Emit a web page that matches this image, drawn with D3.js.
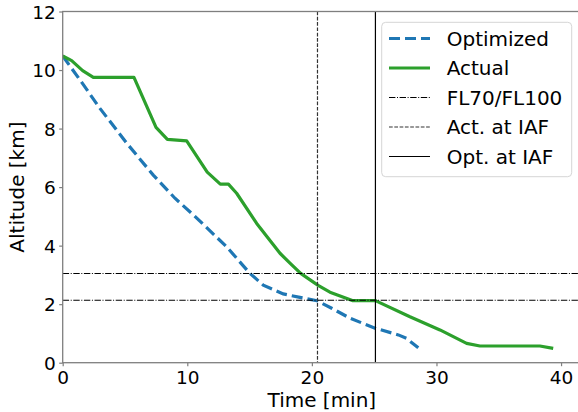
<!DOCTYPE html>
<html>
<head>
<meta charset="utf-8">
<script src="https://d3js.org/d3.v7.min.js"></script>
<style>
    body { margin: 0; background: #fff; }
    text { font-family: "DejaVu Sans", sans-serif; fill: #000; }
</style>
</head>
<body>
<svg id="drawing_region"></svg>
<script>
// descent profiles (time in min, altitude in km)
const opt_time = [0, 1.39, 2.99, 5.14, 7.27, 9.01, 10.49, 13.16, 15.03, 16.1, 17.7, 19.04, 20.4, 21.59, 23.06, 25.07, 26.94, 27.6, 28.54];
const opt_alt  = [10.48, 9.66, 8.69, 7.5, 6.41, 5.62, 5.05, 3.96, 3.05, 2.65, 2.35, 2.23, 2.12, 1.86, 1.52, 1.18, 0.95, 0.83, 0.51];

const act_time = [0, 0.72, 1.6, 2.46, 5.72, 7.49, 8.4, 9.95, 11.6, 12.65, 13.3, 13.96, 15.57, 17.44, 18.24, 19.1, 20.5, 21.45, 23.3, 25.1, 27.87, 30.28, 32.42, 33.49, 38.3, 39.37];
const act_alt  = [10.48, 10.32, 9.98, 9.75, 9.75, 8.04, 7.63, 7.58, 6.51, 6.1, 6.1, 5.79, 4.76, 3.74, 3.4, 3.05, 2.64, 2.41, 2.12, 2.12, 1.57, 1.12, 0.66, 0.57, 0.57, 0.49];

const fl_levels = [2.134, 3.048];   // FL70, FL100
const act_iaf = 20.45;
const opt_iaf = 25.1;

const x_ticks = [0, 10, 20, 30, 40];
const y_ticks = [0, 2, 4, 6, 8, 10, 12];
const x_domain = [0, 41.44];
const y_domain = [0, 12];

const legend_labels = ["Optimized", "Actual", "FL70/FL100", "Act. at IAF", "Opt. at IAF"];

class DescentPlot {

    constructor( config ) {
        this.config = config;
        this.init();
    }

    init() {
        let self = this;
        const c = self.config;

        self.svg = d3.select( c.parent )
            .attr('width', c.width)
            .attr('height', c.height);

        self.xscale = d3.scaleLinear()
            .domain( x_domain )
            .range( [c.left, c.right] );

        self.yscale = d3.scaleLinear()
            .domain( y_domain )
            .range( [c.bottom, c.top] );

        self.svg.append('clipPath')
            .attr('id', 'plot_clip')
            .append('rect')
            .attr('x', c.left)
            .attr('y', c.top)
            .attr('width', c.right - c.left)
            .attr('height', c.bottom - c.top);

        self.chart = self.svg.append('g')
            .attr('clip-path', 'url(#plot_clip)');
    }

    render() {
        let self = this;
        const c = self.config;
        const xs = self.xscale, ys = self.yscale;

        const line = d3.line()
            .x( d => xs(d[0]) )
            .y( d => ys(d[1]) );

        // optimized
        self.chart.append('path')
            .datum( d3.zip(opt_time, opt_alt) )
            .attr('d', line)
            .attr('fill', 'none')
            .attr('stroke', '#1f77b4')
            .attr('stroke-width', 3.2)
            .attr('stroke-dasharray', '11,5');

        // actual
        self.chart.append('path')
            .datum( d3.zip(act_time, act_alt) )
            .attr('d', line)
            .attr('fill', 'none')
            .attr('stroke', '#2ca02c')
            .attr('stroke-width', 3.2)
            .attr('stroke-linejoin', 'round');

        // FL70 / FL100
        self.chart.selectAll('.fl')
            .data( fl_levels )
            .enter()
            .append('line')
            .attr('x1', c.left)
            .attr('x2', c.right)
            .attr('y1', d => ys(d))
            .attr('y2', d => ys(d))
            .attr('stroke', '#000')
            .attr('stroke-width', 1.1)
            .attr('stroke-dasharray', '6.4,1.6,1,1.6');

        self.chart.append('line')
            .attr('x1', xs(act_iaf)).attr('x2', xs(act_iaf))
            .attr('y1', c.top).attr('y2', c.bottom)
            .attr('stroke', '#333')
            .attr('stroke-width', 1.2)
            .attr('stroke-dasharray', '3.7,1.6');

        self.chart.append('line')
            .attr('x1', xs(opt_iaf)).attr('x2', xs(opt_iaf))
            .attr('y1', c.top).attr('y2', c.bottom)
            .attr('stroke', '#000')
            .attr('stroke-width', 1.2);

        // spines
        const spine = '#7f7f7f';
        self.svg.append('rect')
            .attr('x', c.left).attr('y', c.top)
            .attr('width', c.right - c.left).attr('height', c.bottom - c.top)
            .attr('fill', 'none')
            .attr('stroke', spine)
            .attr('stroke-width', 1.3);

        // axes
        const xaxis = d3.axisBottom( xs )
            .tickValues( x_ticks )
            .tickSize(3.5)
            .tickPadding(4);
        const yaxis = d3.axisLeft( ys )
            .tickValues( y_ticks )
            .tickSize(3.5)
            .tickPadding(4);

        const xg = self.svg.append('g')
            .attr('transform', `translate(0, ${c.bottom})`)
            .call( xaxis );
        const yg = self.svg.append('g')
            .attr('transform', `translate(${c.left}, 0)`)
            .call( yaxis );

        [xg, yg].forEach( g => {
            g.select('.domain').remove();
            g.selectAll('line').attr('stroke', spine).attr('stroke-width', 1.2);
            g.selectAll('text')
                .attr('font-size', '18.5px')
                .attr('font-family', '"DejaVu Sans", sans-serif')
                .attr('fill', '#000');
        });
        xg.selectAll('text').attr('dy', null).attr('y', 21.5);
        yg.selectAll('text').attr('dy', '0.36em').attr('x', -7);

        // axis labels
        self.svg.append('text')
            .attr('x', (c.left + 583) / 2 - 1)
            .attr('y', 406.5)
            .attr('text-anchor', 'middle')
            .attr('font-size', '20px')
            .text('Time [min]');

        self.svg.append('text')
            .attr('transform', `translate(24, ${(c.top + c.bottom) / 2}) rotate(-90)`)
            .attr('text-anchor', 'middle')
            .attr('font-size', '20px')
            .text('Altitude [km]');

        self.legend();
    }

    legend() {
        let self = this;
        const lg = self.svg.append('g');

        lg.append('rect')
            .attr('x', 381.7).attr('y', 22.3)
            .attr('width', 190).attr('height', 154.4)
            .attr('rx', 4)
            .attr('fill', '#fff').attr('fill-opacity', 0.8)
            .attr('stroke', '#d5d5d5')
            .attr('stroke-width', 1);

        const styles = [
            { stroke: '#1f77b4', width: 3.2, dash: '11,5' },
            { stroke: '#2ca02c', width: 3.2, dash: null },
            { stroke: '#000', width: 1.1, dash: '6.4,1.6,1,1.6' },
            { stroke: '#333', width: 1.2, dash: '3.7,1.6' },
            { stroke: '#000', width: 1.2, dash: null }
        ];

        const row = lg.selectAll('.entry')
            .data( legend_labels )
            .enter()
            .append('g')
            .attr('transform', (d, i) => `translate(0, ${38.5 + i * 29.5})`);

        row.append('line')
            .attr('x1', 389).attr('x2', 430)
            .attr('stroke', (d, i) => styles[i].stroke)
            .attr('stroke-width', (d, i) => styles[i].width)
            .attr('stroke-dasharray', (d, i) => styles[i].dash);

        row.append('text')
            .attr('x', 446.7)
            .attr('dy', '0.36em')
            .attr('font-size', '20px')
            .text( d => d );
    }
}

var config = {
    parent: '#drawing_region',
    width: 578,
    height: 412,
    left: 62.7,
    right: 579,
    top: 11.5,
    bottom: 362.7
};

const plot = new DescentPlot( config );
plot.render();
</script>
</body>
</html>
